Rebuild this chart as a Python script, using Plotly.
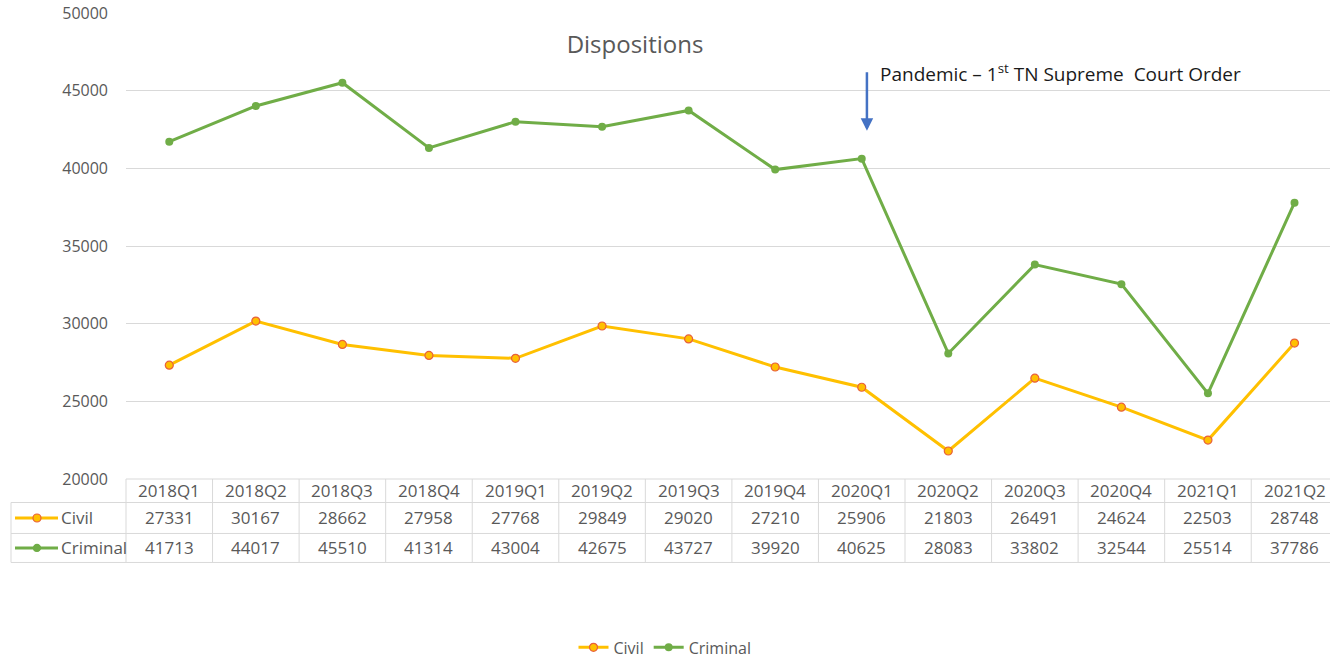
import plotly.graph_objects as go

quarters = ["2018Q1", "2018Q2", "2018Q3", "2018Q4", "2019Q1", "2019Q2", "2019Q3",
            "2019Q4", "2020Q1", "2020Q2", "2020Q3", "2020Q4", "2021Q1", "2021Q2"]
civil = [27331, 30167, 28662, 27958, 27768, 29849, 29020,
         27210, 25906, 21803, 26491, 24624, 22503, 28748]
criminal = [41713, 44017, 45510, 41314, 43004, 42675, 43727,
            39920, 40625, 28083, 33802, 32544, 25514, 37786]
y_ticks = [20000, 25000, 30000, 35000, 40000, 45000, 50000]

W, H = 1330, 659
PLOT_L, PLOT_T, PLOT_B = 126, 13.3, 479.5          # window pixels
ML, MR, MT = PLOT_L, 0, PLOT_T
MB = H - PLOT_B
plot_w = W - ML - MR
plot_h = H - MT - MB
X_RANGE = [-0.5, 13.41]
Y_RANGE = [20000, 50000.5]

CIVIL_LINE = "#FFC000"
CIVIL_EDGE = "#E8603C"
CRIM = "#70AD47"
GRID = "#D9D9D9"
TXT = "#595959"
FONT = "Open Sans"


def wy(py):
    return (PLOT_B - py) / plot_h


def wx(px):
    return (px - PLOT_L) / plot_w


def cat_to_paper(k):
    return (k - X_RANGE[0]) / (X_RANGE[1] - X_RANGE[0])


def py_to_val(py):
    return Y_RANGE[1] - (py - PLOT_T) / plot_h * (Y_RANGE[1] - Y_RANGE[0])


fig = go.Figure()
fig.add_trace(go.Scatter(
    x=quarters, y=civil, name="Civil", mode="lines+markers",
    line=dict(color=CIVIL_LINE, width=3),
    marker=dict(size=8, color=CIVIL_LINE, line=dict(color=CIVIL_EDGE, width=1.2)),
))
fig.add_trace(go.Scatter(
    x=quarters, y=criminal, name="Criminal", mode="lines+markers",
    line=dict(color=CRIM, width=3),
    marker=dict(size=8, color=CRIM),
))

shapes = []
annotations = []

# table grid (window pixel y)
y_top, y_r1, y_r2, y_bot = 479.5, 503, 534, 563
line_style = dict(color=GRID, width=1)
for yy, x0 in [(y_top, PLOT_L), (y_r1, 11), (y_r2, 11), (y_bot, 11)]:
    shapes.append(dict(type="line", xref="paper", yref="paper",
                       x0=wx(x0), x1=1.0, y0=wy(yy), y1=wy(yy),
                       line=line_style, layer="above"))
for k in range(len(quarters)):
    xp = cat_to_paper(k - 0.5)
    shapes.append(dict(type="line", xref="paper", yref="paper",
                       x0=xp, x1=xp, y0=wy(y_top), y1=wy(y_bot), line=line_style))
shapes.append(dict(type="line", xref="paper", yref="paper",
                   x0=wx(11), x1=wx(11), y0=wy(y_r1), y1=wy(y_bot), line=line_style))

row_centers = [(y_top + y_r1) / 2, (y_r1 + y_r2) / 2, (y_r2 + y_bot) / 2]
tfont = dict(size=17, color=TXT, family=FONT)
for i, q in enumerate(quarters):
    for row, txt in enumerate([q, str(civil[i]), str(criminal[i])]):
        annotations.append(dict(x=q, xref="x", y=wy(row_centers[row]), yref="paper",
                                text=txt, showarrow=False, xanchor="center",
                                yanchor="middle", font=tfont))

# legend keys inside the table
for yc, col, name, edge in [(row_centers[1], CIVIL_LINE, "Civil", CIVIL_EDGE),
                            (row_centers[2], CRIM, "Criminal", CRIM)]:
    shapes.append(dict(type="line", xref="paper", yref="paper",
                       x0=wx(15), x1=wx(58), y0=wy(yc), y1=wy(yc),
                       line=dict(color=col, width=3)))
    r = 4 if name == "Civil" else 3.5
    shapes.append(dict(type="circle", xref="paper", yref="paper",
                       x0=wx(37 - r), x1=wx(37 + r), y0=wy(yc + r), y1=wy(yc - r),
                       fillcolor=col, line=dict(color=edge, width=1.2)))
    annotations.append(dict(x=wx(59), xref="paper", y=wy(yc), yref="paper",
                            text=name, showarrow=False, xanchor="left", yanchor="middle",
                            font=tfont))

# pandemic arrow and label
annotations.append(dict(x=8.06, y=py_to_val(131), xref="x", yref="y",
                        ax=8.06, ay=py_to_val(71), axref="x", ayref="y",
                        text="", showarrow=True, arrowhead=2, arrowsize=1,
                        arrowwidth=2.5, arrowcolor="#4472C4"))
annotations.append(dict(x=8.19, y=py_to_val(73), xref="x", yref="y",
                        text="Pandemic \u2013 1<sup>st</sup> TN Supreme  Court Order",
                        showarrow=False, xanchor="left", yanchor="middle",
                        font=dict(size=19, color="#1a1a1a", family=FONT)))

fig.update_layout(
    width=W, height=H,
    margin=dict(l=ML, r=MR, t=MT, b=MB, autoexpand=False),
    paper_bgcolor="white", plot_bgcolor="white",
    title=dict(text="Dispositions", x=wx(635), xref="paper", xanchor="center",
               y=1 - 45 / H, yref="container", yanchor="middle",
               font=dict(size=24, color=TXT, family=FONT)),
    xaxis=dict(type="category", categoryorder="array", categoryarray=quarters,
               range=X_RANGE, showticklabels=False, showgrid=False, zeroline=False,
               showline=False, ticks=""),
    yaxis=dict(range=Y_RANGE, tickvals=y_ticks, tickformat="d", showgrid=True,
               gridcolor=GRID, gridwidth=1, zeroline=False, showline=False,
               ticklabelstandoff=17,
               tickfont=dict(size=16, color=TXT, family=FONT)),
    showlegend=True,
    legend=dict(orientation="h", x=wx(665), xanchor="center",
                y=wy(648), yanchor="middle", borderwidth=0,
                font=dict(size=16, color=TXT, family=FONT)),
    shapes=shapes,
    annotations=annotations,
)

fig.write_html(
    "out.html",
    config={"displayModeBar": False},
    post_script="document.body.style.margin='0';document.body.style.overflow='hidden';",
)
